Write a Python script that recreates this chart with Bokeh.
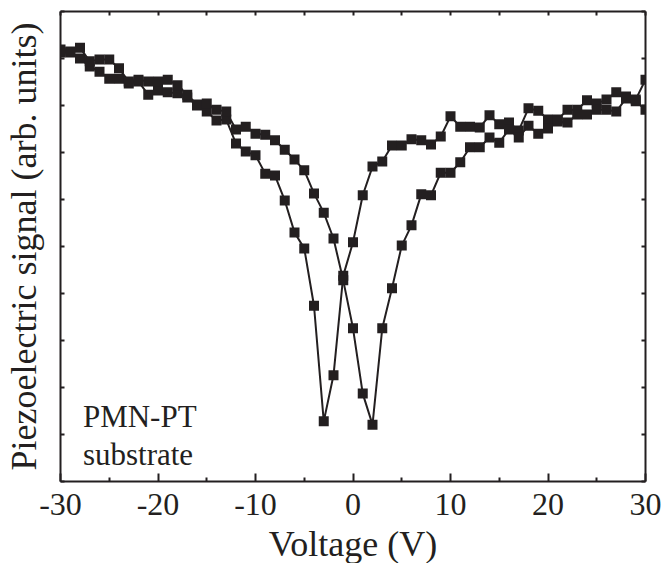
from bokeh.plotting import figure
from bokeh.models import (Range1d, LinearAxis, SingleIntervalTicker, FixedTicker, Label,
                          ColumnDataSource, CustomJSTickFormatter)
from bokeh.embed import file_html
from bokeh.resources import INLINE

voltage = list(range(-30, 31))

# branch with the dip at +2 V
signal_b = [9.19, 9.15, 9.23, 8.94, 8.98, 8.98, 8.79, 8.51, 8.55, 8.51,
            8.51, 8.55, 8.43, 8.23, 8.02, 8.04, 7.91, 7.87, 7.49, 7.55,
            7.40, 7.38, 7.26, 7.06, 6.85, 6.62, 6.13, 5.72, 5.17, 4.28,
            3.26, 1.87, 1.21, 3.26, 4.11, 5.02, 5.45, 6.11, 6.09, 6.57,
            6.57, 6.79, 7.11, 7.11, 7.32, 7.21, 7.49, 7.32, 7.57, 7.40,
            7.51, 7.66, 7.64, 7.81, 7.81, 7.91, 7.91, 7.87, 8.15, 8.09,
            7.91]

# branch with the dip at -3 V
signal_a = [9.13, 9.13, 9.00, 8.83, 8.72, 8.57, 8.57, 8.47, 8.51, 8.23,
            8.32, 8.28, 8.26, 8.17, 8.00, 7.87, 7.68, 7.70, 7.19, 7.02,
            6.94, 6.55, 6.51, 5.98, 5.30, 4.96, 3.74, 1.28, 2.26, 4.38,
            5.09, 6.09, 6.70, 6.81, 7.15, 7.15, 7.28, 7.26, 7.17, 7.34,
            7.77, 7.55, 7.55, 7.53, 7.79, 7.60, 7.64, 7.47, 7.94, 7.89,
            7.70, 7.70, 7.91, 7.91, 8.11, 8.04, 8.13, 8.28, 8.19, 8.13,
            8.55]

x_ticks = [-30, -20, -10, 0, 10, 20, 30]
x_tick_labels = ["-30", "-20", "-10", "0", "10", "20", "30"]
x_minor_ticks = [-25, -15, -5, 5, 15, 25]
y_ticks = [0, 1, 2, 3, 4, 5, 6, 7, 8, 9, 10]

x_title = "Voltage (V)"
y_title = "Piezoelectric signal (arb. units)"
note_lines = ["PMN-PT", "substrate"]

INK = "#231f20"
FONT = "Liberation Serif"

p = figure(frame_width=585, frame_height=470,
           min_border_left=58, min_border_right=16,
           min_border_top=11, min_border_bottom=79,
           x_range=Range1d(-30, 30), y_range=Range1d(0, 10),
           output_backend="svg", toolbar_location=None,
           x_axis_type=None, y_axis_type=None)
p.outline_line_color = None
p.xgrid.visible = False
p.ygrid.visible = False
p.background_fill_color = "white"
p.border_fill_color = "white"

blank = CustomJSTickFormatter(code="return ''")

def style_axis(ax, tick_in, minor_in, labels=True):
    ax.axis_line_color = INK
    ax.axis_line_width = 2
    ax.major_tick_line_color = INK
    ax.major_tick_line_width = 2
    ax.minor_tick_line_color = INK
    ax.minor_tick_line_width = 2
    ax.major_tick_in = tick_in
    ax.major_tick_out = 0
    ax.minor_tick_in = minor_in
    ax.minor_tick_out = 0
    if not labels:
        ax.formatter = blank
        ax.major_label_text_font_size = "1px"
        ax.major_label_standoff = 0

xb = LinearAxis(ticker=FixedTicker(ticks=x_ticks, minor_ticks=x_minor_ticks))
style_axis(xb, 8, 4)
xb.major_label_overrides = dict(zip(x_ticks, x_tick_labels))
xb.major_label_text_font = FONT
xb.major_label_text_font_size = "32px"
xb.major_label_text_color = INK
xb.major_label_standoff = 12
xb.axis_label = x_title
xb.axis_label_text_font = FONT
xb.axis_label_text_font_size = "36px"
xb.axis_label_text_font_style = "normal"
xb.axis_label_text_color = INK
xb.axis_label_standoff = 6
p.add_layout(xb, "below")

xt = LinearAxis(ticker=SingleIntervalTicker(interval=5, num_minor_ticks=0))
style_axis(xt, 4, 0, labels=False)
p.add_layout(xt, "above")

yl = LinearAxis(ticker=FixedTicker(ticks=y_ticks))
style_axis(yl, 4, 0, labels=False)
yl.axis_label = y_title
yl.axis_label_text_font = FONT
yl.axis_label_text_font_size = "36px"
yl.axis_label_text_font_style = "normal"
yl.axis_label_text_color = INK
yl.axis_label_standoff = 17
p.add_layout(yl, "left")

yr = LinearAxis(ticker=FixedTicker(ticks=y_ticks))
style_axis(yr, 4, 0, labels=False)
p.add_layout(yr, "right")

for sig in (signal_a, signal_b):
    src = ColumnDataSource(data=dict(v=voltage, s=sig))
    p.line("v", "s", source=src, line_color=INK, line_width=2)
    p.scatter("v", "s", source=src, marker="square", size=10,
              fill_color=INK, line_color=INK, line_width=0)

p.add_layout(Label(x=-27.7, y=1.38, text=note_lines[0], text_font=FONT,
                   text_font_size="31px", text_color=INK, text_baseline="alphabetic"))
p.add_layout(Label(x=-27.7, y=0.57, text=note_lines[1], text_font=FONT,
                   text_font_size="31px", text_color=INK, text_baseline="alphabetic"))

open("out.html", "w").write(file_html(p, INLINE))
